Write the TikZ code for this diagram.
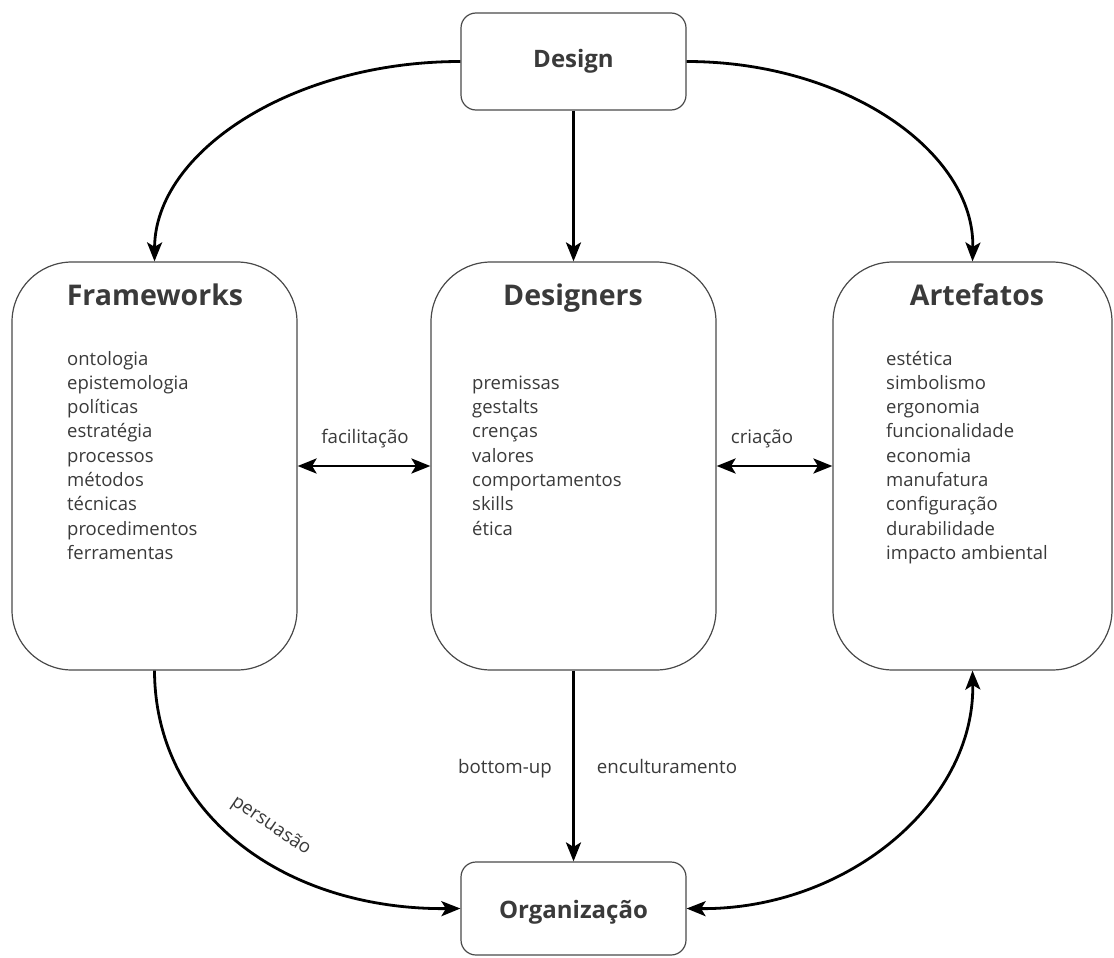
\documentclass[tikz,border=0pt]{standalone}
\usepackage{fontspec}
\setmainfont{Open Sans}
\usetikzlibrary{arrows.meta}
\definecolor{txt}{HTML}{3A3A3A}
\definecolor{bord}{HTML}{4A4A4A}
\tikzset{
  box/.style={draw=bord, line width=1.2pt, fill=white, inner sep=0pt},
  ttl/.style={font=\bfseries\fontsize{28.5}{32}\selectfont, text=txt, inner sep=0pt, anchor=base},
  smallttl/.style={font=\bfseries\fontsize{24}{28}\selectfont, text=txt, inner sep=0pt, anchor=base},
  item/.style={font=\fontsize{18.5}{22}\selectfont, text=txt, inner sep=0pt, anchor=base west},
  lbl/.style={font=\fontsize{18.7}{22}\selectfont, text=txt, inner sep=0pt, anchor=base},
  arr/.style={line width=2.8pt, -{Stealth[length=19pt,width=15pt,inset=4.5pt]}},
  darr/.style={line width=2.8pt, {Stealth[length=19pt,width=15pt,inset=4.5pt]}-{Stealth[length=19pt,width=15pt,inset=4.5pt]}}
}
\begin{document}
\begin{tikzpicture}[x=1pt,y=-1pt]
\useasboundingbox (0,0) rectangle (1114,958);
% boxes
\node[box, rounded corners=15pt, minimum width=225pt, minimum height=97pt] (design) at (573.5,61.5) {};
\node[box, rounded corners=60pt, minimum width=285pt, minimum height=408pt] (fw) at (154.5,466) {};
\node[box, rounded corners=60pt, minimum width=285pt, minimum height=408pt] (dn) at (573.5,466) {};
\node[box, rounded corners=60pt, minimum width=279pt, minimum height=408pt] (af) at (972.5,466) {};
\node[box, rounded corners=15pt, minimum width=225pt, minimum height=93pt] (org) at (573.5,908.5) {};
% titles
\node[smallttl] (designt) at (573.5,68) {Design};
\node[smallttl] (orgt) at (573.5,918) {Organização};
\node[ttl] (fwt) at (155,305) {Frameworks};
\node[ttl] (dnt) at (573,305) {Designers};
\node[ttl] (aft) at (977,305) {Artefatos};
% lists
\foreach \t [count=\i] in {ontologia,epistemologia,políticas,estratégia,processos,métodos,técnicas,procedimentos,ferramentas}
  \node[item] (fw\i) at (67,{365+24.3*(\i-1)}) {\t};
\foreach \t [count=\i] in {premissas,gestalts,crenças,valores,comportamentos,skills,ética}
  \node[item] (dn\i) at (472,{389.3+24.3*(\i-1)}) {\t};
\foreach \t [count=\i] in {estética,simbolismo,ergonomia,funcionalidade,economia,manufatura,configuração,durabilidade,impacto ambiental}
  \node[item] (af\i) at (886,{365+24.3*(\i-1)}) {\t};
% connectors
\draw[arr] (design.west) .. controls (292,61.5) and (155,152) .. (fw.north);
\draw[arr] (design.east) .. controls (846,61.5) and (975,152) .. (af.north);
\draw[arr] (design.south) -- (dn.north);
\draw[darr] (fw.east) -- (dn.west);
\draw[darr] (dn.east) -- (af.west);
\draw[arr] (dn.south) -- (org.north);
\draw[arr] (fw.south) .. controls (155,815) and (285,910) .. (org.west);
\draw[darr] (org.east) .. controls (846,910) and (975,803) .. (af.south);
% labels
\node[lbl] (lfac) at (365,443) {facilitação};
\node[lbl] (lcri) at (762,443) {criação};
\node[lbl] (lbu) at (505,773) {bottom-up};
\node[lbl] (lenc) at (667,773) {enculturamento};
\node[lbl, anchor=center, rotate=-34] (lper) at (271,826) {persuasão};
\end{tikzpicture}
\end{document}
